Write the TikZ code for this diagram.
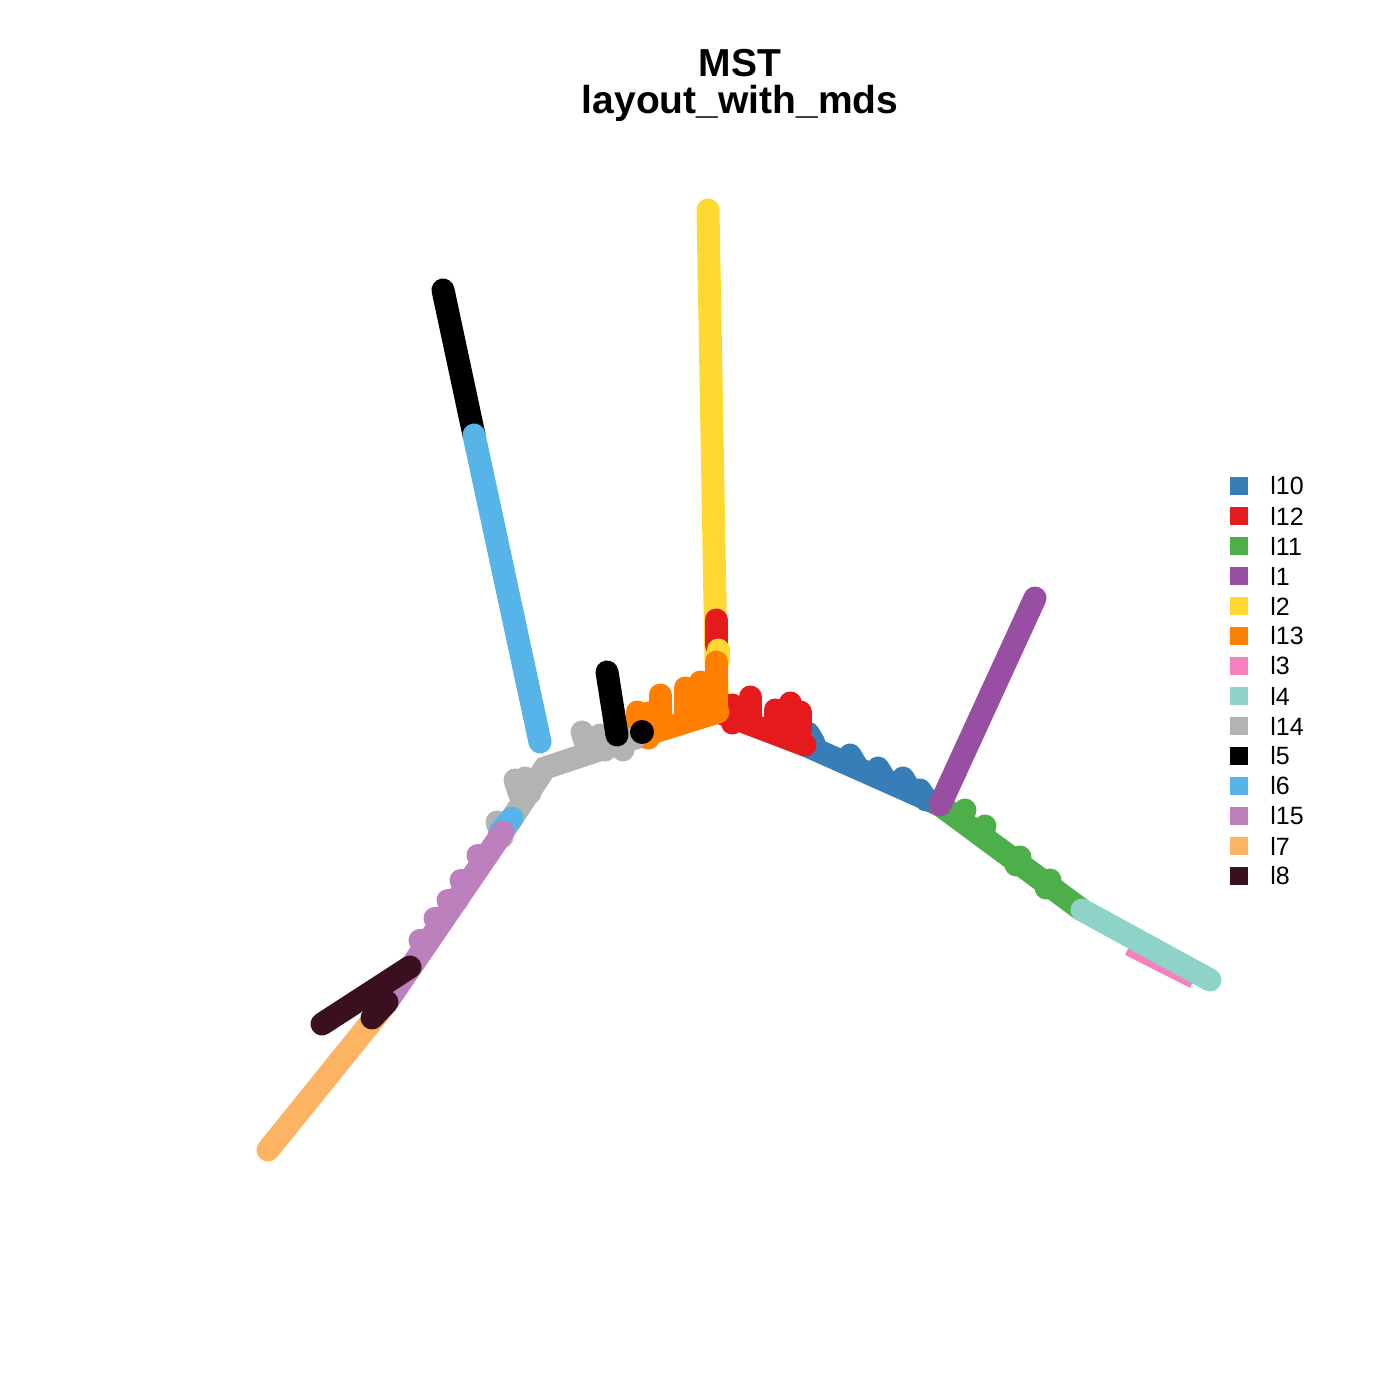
\documentclass[tikz,border=0pt]{standalone}
\usepackage{fontspec}
\setmainfont{Liberation Sans}
\definecolor{cTen}{HTML}{377EB8}
\definecolor{cTwelve}{HTML}{E41A1C}
\definecolor{cEleven}{HTML}{4DAF4A}
\definecolor{cOne}{HTML}{984EA3}
\definecolor{cTwo}{HTML}{FFD92F}
\definecolor{cThirteen}{HTML}{FF7F00}
\definecolor{cThree}{HTML}{F781BF}
\definecolor{cFour}{HTML}{8DD3C7}
\definecolor{cFourteen}{HTML}{B3B3B3}
\definecolor{cFive}{HTML}{000000}
\definecolor{cSix}{HTML}{56B4E9}
\definecolor{cFifteen}{HTML}{BC80BD}
\definecolor{cSeven}{HTML}{FDB462}
\definecolor{cEight}{HTML}{3A1021}
\tikzset{
  branch/.style={line width=11.5pt, line cap=round},
  bump/.style={line width=11.5pt, line cap=round},
  key/.style={minimum width=9pt, minimum height=9pt, inner sep=0pt},
  keytext/.style={anchor=west, font=\fontsize{12.5}{14}\selectfont, inner sep=0pt}
}
\begin{document}
\begin{tikzpicture}[x=0.5pt, y=-0.5pt]
  \useasboundingbox (0,0) rectangle (1400,1400);

  % title
  \node[font=\bfseries\fontsize{19.5}{22}\selectfont] (title) at (740,63) {MST};
  \node[font=\bfseries\fontsize{19.5}{22}\selectfont] (subtitle) at (740,103) {layout\_with\_mds};

  % branch points
  \coordinate (hub) at (718,712);
  \coordinate (topY) at (708,210);
  \coordinate (endR) at (805,745);
  \coordinate (fork) at (940,805);
  \coordinate (topP) at (1035,598);
  \coordinate (endG) at (1082,910);
  \coordinate (tipT) at (1210,980);
  \coordinate (endO) at (635,738);
  \coordinate (knee) at (545,768);
  \coordinate (endGr) at (503,832);
  \coordinate (endPu) at (385,1005);
  \coordinate (tipOr) at (268,1150);
  \coordinate (topK) at (443,290);
  \coordinate (midK) at (474,435);
  \coordinate (endC) at (540,742);

  % yellow / red stem
  \draw[branch, cTwo] (hub) -- (716,660) -- (topY);
  \draw[branch, cTwelve] (716,620) -- (716,645);

  % right arm
  \draw[branch, cTen] (endR) -- (fork);
  \foreach \x/\y in {808/733, 850/755, 878/768, 903/778, 920/790}
    \draw[bump, cTen] (\x,\y) -- ++(6,10);
  \draw[branch, cTwelve] (hub) -- (endR);
  \foreach \x/\y in {732/705, 750/697, 775/710, 790/703, 800/712}
    \draw[bump, cTwelve] (\x,\y) -- ++(0,18);
  \draw[branch, cEleven] (fork) -- (endG);
  \foreach \x/\y in {965/810, 985/826, 1020/857, 1050/880}
    \draw[bump, cEleven] (\x,\y) -- ++(-4,8);
  \draw[line width=11pt, cThree] (1130,945) -- (1195,978);
  \draw[branch, cFour] (endG) -- (tipT);
  \draw[branch, cOne] (fork) -- (topP);

  % left arm
  \draw[branch, cThirteen] (hub) -- (endO);
  \foreach \x/\y in {637/712, 648/713, 660/695, 685/688, 700/682}
    \draw[bump, cThirteen] (\x,\y) -- ++(0,25);
  \draw[branch, cTwo] (718,650) -- (718,660);
  \draw[branch, cThirteen] (716,662) -- (716,705);
  \draw[branch, cFourteen] (endO) -- (knee) -- (endGr);
  \foreach \x/\y in {582/732, 600/735, 618/735, 525/778, 515/780, 497/822}
    \draw[bump, cFourteen] (\x,\y) -- ++(5,15);
  \draw[branch, cFive] (607,672) -- (617,735);
  \fill[cFive] (642,732) circle (6pt);
  \draw[branch, cFive] (topK) -- (midK);
  \draw[branch, cSix] (midK) -- (endC);
  \draw[branch, cSix] (500,832) -- (512,818);
  \draw[branch, cFifteen] (endGr) -- (endPu);
  \foreach \x/\y in {478/855, 461/880, 448/900, 435/918, 420/940}
    \draw[bump, cFifteen] (\x,\y) -- ++(9,0);
  \draw[branch, cSeven] (endPu) -- (tipOr);
  \draw[branch, cEight] (322,1024) -- (410,967);
  \draw[branch, cEight] (372,1018) -- (387,1002);

  % legend
  \foreach \c/\t [count=\i from 0] in {cTen/l10, cTwelve/l12, cEleven/l11, cOne/l1,
      cTwo/l2, cThirteen/l13, cThree/l3, cFour/l4, cFourteen/l14, cFive/l5,
      cSix/l6, cFifteen/l15, cSeven/l7, cEight/l8} {
    \node[key, fill=\c] (key\i) at (1239,486+30*\i) {};
    \node[keytext] (lab\i) at (1270,486+30*\i) {\t};
  }
\end{tikzpicture}
\end{document}
